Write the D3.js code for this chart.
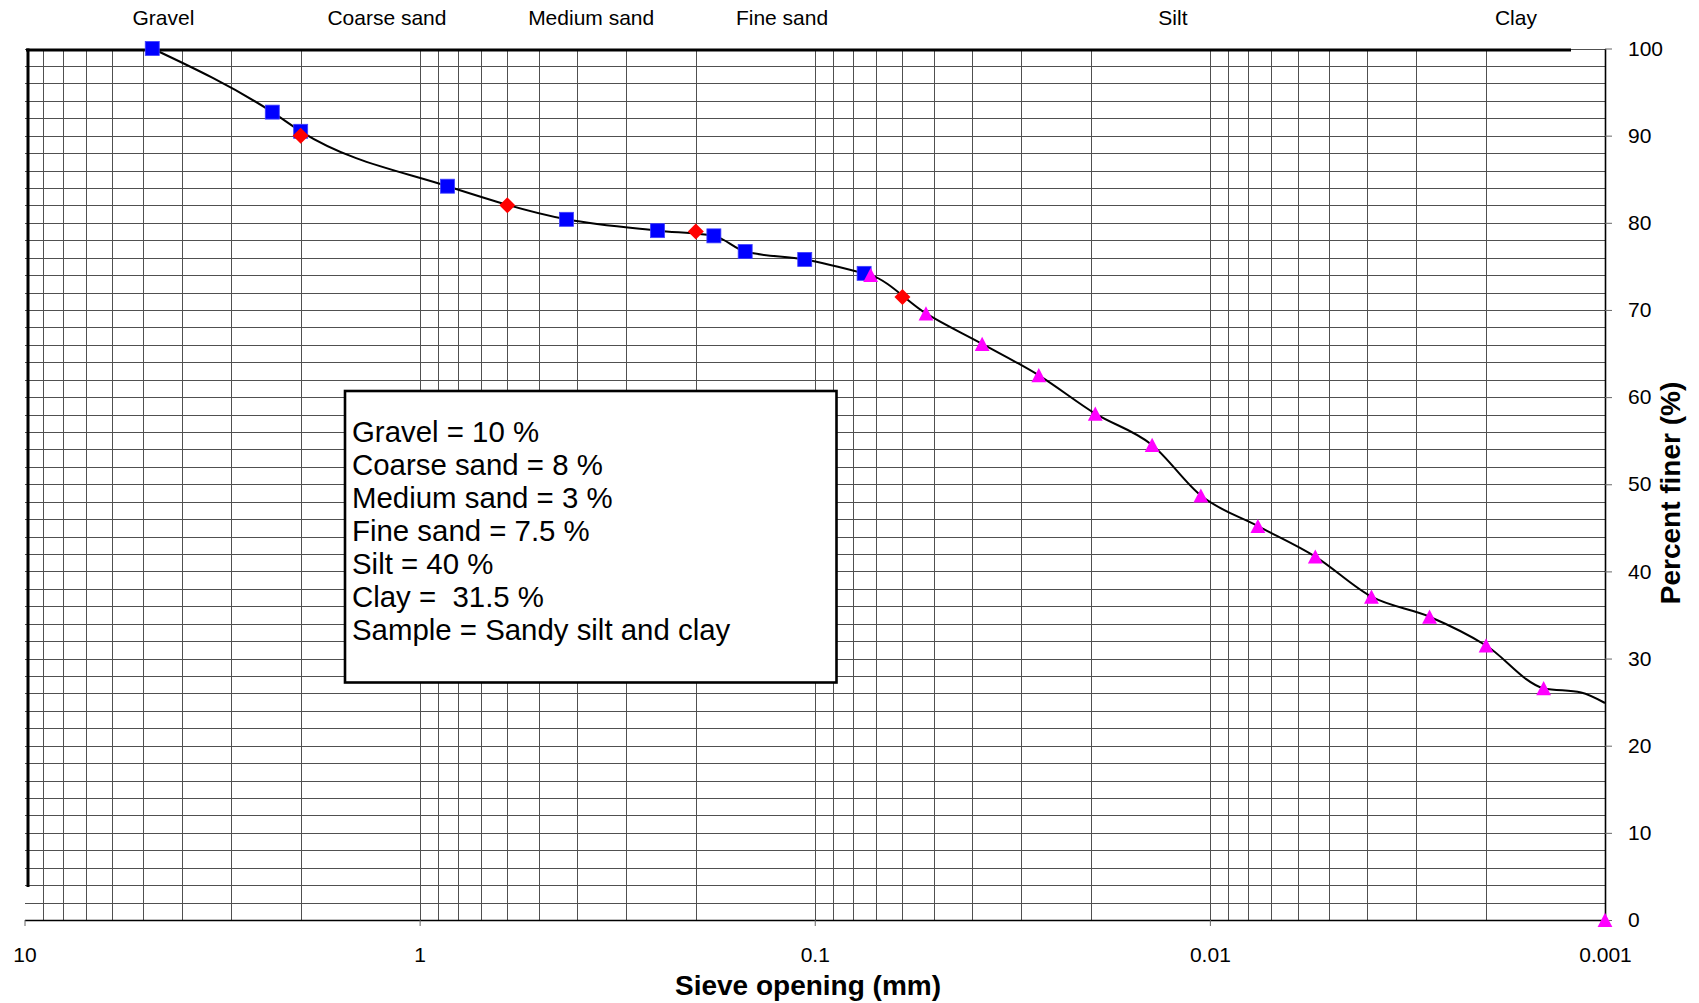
<!DOCTYPE html>
<html>
<head>
<meta charset="utf-8">
<script src="https://cdn.jsdelivr.net/npm/d3@7"></script>
<style>
  body { margin: 0; background: #fff; }
  svg { display: block; font-family: "Liberation Sans", Arial, sans-serif; }
</style>
</head>
<body>
<svg id="chart" width="1699" height="1003"></svg>
<script>
// Sieve analysis (mm, % finer)
const sieveSize  = [4.75, 2.36, 2.0, 0.85, 0.425, 0.25, 0.18, 0.15, 0.106, 0.075];
const sieveFiner = [100, 92.7, 90.5, 84.2, 80.4, 79.1, 78.5, 76.7, 75.8, 74.2];

// Class boundaries read on the grading curve
const boundarySize  = [2, 0.6, 0.2, 0.06];
const boundaryFiner = [90, 82, 79, 71.5];

// Hydrometer analysis (mm, % finer)
const hydroSize  = [0.0722, 0.0523, 0.0377, 0.0271, 0.0195, 0.0140, 0.01054, 0.00756, 0.00541, 0.0039, 0.00278, 0.002, 0.00143, 0.001];
const hydroFiner = [74.0, 69.6, 66.1, 62.5, 58.1, 54.5, 48.7, 45.2, 41.7, 37.1, 34.8, 31.5, 26.6, 0];

// Smoothed grading curve
const curveSize  = [4.75, 2.36, 2.0, 0.85, 0.425, 0.25, 0.18, 0.15, 0.106, 0.075, 0.0722, 0.0523, 0.0377, 0.0271, 0.0195, 0.0140, 0.01054, 0.00756, 0.00541, 0.0039, 0.00278, 0.002, 0.00143, 0.00115, 0.001];
const curveFiner = [100, 92.7, 90.5, 84.2, 80.4, 79.1, 78.5, 76.7, 75.8, 74.2, 74.0, 69.6, 66.1, 62.5, 58.1, 54.5, 48.7, 45.2, 41.7, 37.1, 34.8, 31.5, 26.6, 26.1, 24.9];

// Soil classes along the top
const classNames   = ["Gravel", "Coarse sand", "Medium sand", "Fine sand", "Silt", "Clay"];
const classLabelAt = [4.45, 1.21, 0.368, 0.121, 0.0124, 0.00168];

// Axis ticks
const xTickValues = [10, 1, 0.1, 0.01, 0.001];
const xTickLabels = ["10", "1", "0.1", "0.01", "0.001"];
const yTickValues = [0, 10, 20, 30, 40, 50, 60, 70, 80, 90, 100];

// Summary box
const summaryLines = [
  "Gravel = 10 %",
  "Coarse sand = 8 %",
  "Medium sand = 3 %",
  "Fine sand = 7.5 %",
  "Silt = 40 %",
  "Clay =  31.5 %",
  "Sample = Sandy silt and clay"
];

const svg = d3.select("#chart");
const x = d3.scaleLog().domain([10, 0.001]).range([24.5, 1605]);
const y = d3.scaleLinear().domain([0, 100]).range([920, 48.5]);
const [x0, x1] = x.range();
const [yb, yt] = y.range();

const gridColor = "#505050";

// vertical log grid
const vGrid = x.ticks().filter(v => v < 9.99);
svg.append("g")
  .attr("transform", `translate(0,${yb})`)
  .call(d3.axisBottom(x).tickValues(vGrid).tickSize(-(yb - yt)).tickFormat(""))
  .call(g => g.select(".domain").remove())
  .call(g => g.selectAll("line").attr("stroke", gridColor).attr("stroke-width", 1).attr("shape-rendering", "crispEdges"));

// horizontal grid every 2 %
svg.append("g")
  .attr("transform", `translate(${x0},0)`)
  .call(d3.axisLeft(y).tickValues(d3.range(2, 101, 2)).tickSize(-(x1 - x0)).tickFormat(""))
  .call(g => g.select(".domain").remove())
  .call(g => g.selectAll("line").attr("stroke", gridColor).attr("stroke-width", 1).attr("shape-rendering", "crispEdges"));

// heavy plot border (top and left)
svg.append("path")
  .attr("d", `M${x0 + 1.5},50 H1571`)
  .attr("stroke", "#000").attr("stroke-width", 3.2).attr("fill", "none");
svg.append("path")
  .attr("d", `M28,${yt} V887`)
  .attr("stroke", "#000").attr("stroke-width", 3).attr("fill", "none");

// bottom axis
svg.append("g")
  .attr("transform", `translate(0,${yb})`)
  .call(d3.axisBottom(x).tickValues(xTickValues).tickSize(6).tickSizeOuter(0).tickPadding(21)
        .tickFormat((d, i) => xTickLabels[i]))
  .call(g => g.select(".domain").attr("stroke", "#000").attr("stroke-width", 1.6))
  .call(g => g.selectAll(".tick line").attr("stroke", "#666"))
  .call(g => g.selectAll("text").attr("font-size", 21).attr("fill", "#000")
        .attr("font-family", "Liberation Sans, Arial, sans-serif"));

// right axis
svg.append("g")
  .attr("transform", `translate(${x1},0)`)
  .call(d3.axisRight(y).tickValues(yTickValues).tickSize(7).tickSizeOuter(0).tickPadding(16))
  .call(g => g.select(".domain").attr("stroke", "#000").attr("stroke-width", 1.6))
  .call(g => g.selectAll(".tick line").attr("stroke", "#666"))
  .call(g => g.selectAll("text").attr("font-size", 21).attr("fill", "#000")
        .attr("font-family", "Liberation Sans, Arial, sans-serif"));

// class labels
svg.append("g").selectAll("text")
  .data(classNames)
  .join("text")
  .attr("x", (d, i) => x(classLabelAt[i]))
  .attr("y", 25)
  .attr("text-anchor", "middle")
  .attr("font-size", 21)
  .text(d => d);

// grading curve
const curvePts = curveSize.map((s, i) => [s, curveFiner[i]]);
svg.append("path")
  .datum(curvePts)
  .attr("d", d3.line().x(d => x(d[0])).y(d => y(d[1])).curve(d3.curveMonotoneX))
  .attr("fill", "none").attr("stroke", "#000").attr("stroke-width", 2);

// sieve markers
svg.append("g").selectAll("rect")
  .data(sieveSize.map((s, i) => [s, sieveFiner[i]]))
  .join("rect")
  .attr("x", d => x(d[0]) - 7).attr("y", d => y(d[1]) - 7)
  .attr("width", 14).attr("height", 14)
  .attr("fill", "#0000ff").attr("stroke", "#4040ff").attr("stroke-width", 0.8);

// boundary markers
svg.append("g").selectAll("path")
  .data(boundarySize.map((s, i) => [s, boundaryFiner[i]]))
  .join("path")
  .attr("transform", d => `translate(${x(d[0])},${y(d[1])})`)
  .attr("d", "M0,-8L8,0L0,8L-8,0Z")
  .attr("fill", "#ff0000");

// hydrometer markers
svg.append("g").selectAll("path")
  .data(hydroSize.map((s, i) => [s, hydroFiner[i]]))
  .join("path")
  .attr("transform", d => `translate(${x(d[0])},${y(d[1])})`)
  .attr("d", "M0,-7.2L7.4,7L-7.4,7Z")
  .attr("fill", "#ff00ff");

// summary box
const box = svg.append("g");
box.append("rect")
  .attr("x", 345).attr("y", 391).attr("width", 491.5).attr("height", 291.5)
  .attr("fill", "#fff").attr("stroke", "#000").attr("stroke-width", 2.6);
box.selectAll("text")
  .data(summaryLines)
  .join("text")
  .attr("x", 352)
  .attr("y", (d, i) => 441.5 + i * 33)
  .attr("font-size", 29.4)
  .attr("xml:space", "preserve")
  .style("white-space", "pre")
  .text(d => d);

// axis titles
svg.append("text")
  .attr("x", 808).attr("y", 995)
  .attr("text-anchor", "middle")
  .attr("font-size", 28).attr("font-weight", "bold")
  .text("Sieve opening (mm)");
svg.append("text")
  .attr("transform", "translate(1680,493) rotate(-90)")
  .attr("text-anchor", "middle")
  .attr("font-size", 28).attr("font-weight", "bold")
  .text("Percent finer (%)");
</script>
</body>
</html>
